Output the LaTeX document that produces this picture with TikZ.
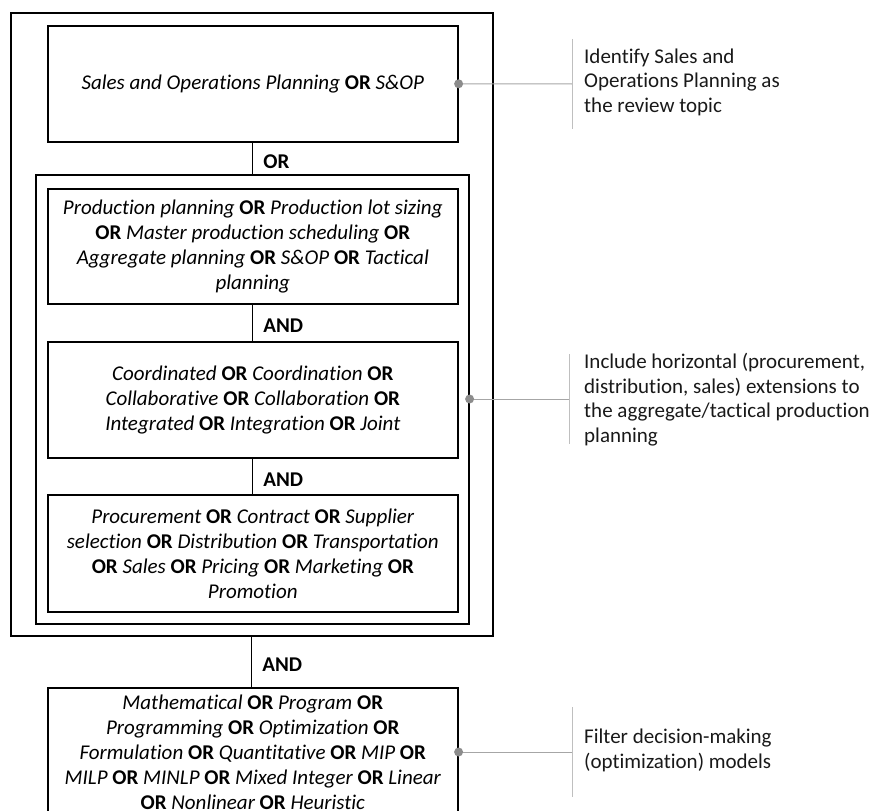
\documentclass[tikz,border=0pt]{standalone}
\usepackage{fontspec}
\setmainfont{Carlito}[Ligatures=NoCommon]
\newcommand{\OR}{{\bfseries\upshape OR}}
\newcommand{\termfont}{\fontsize{21bp}{25bp}\selectfont\itshape}
\newcommand{\notefont}{\fontsize{21bp}{24.5bp}\selectfont}
\definecolor{dotgray}{HTML}{8C8C8C}
\definecolor{leadgray}{HTML}{A6A6A6}
\definecolor{bargray}{HTML}{BFBFBF}
\begin{document}
\begin{tikzpicture}[x=1bp,y=-1bp,
  frame/.style={draw=black, line width=1.6bp},
  group/.style={frame, anchor=north west, inner sep=0pt},
  termbox/.style={frame, anchor=north west, inner sep=0pt, minimum width=410bp,
    align=center, font=\termfont},
  link/.style={draw=black, line width=1bp},
  oplabel/.style={anchor=west, xshift=10bp, yshift=-3bp, inner sep=0pt,
    font=\fontsize{21bp}{24bp}\selectfont\bfseries},
  note/.style={anchor=west, inner sep=0pt, align=left, font=\notefont, text=black!90},
  lead/.style={draw=leadgray, line width=1bp},
  bar/.style={draw=bargray, line width=1bp},
  pin/.style={fill=dotgray}
]
\useasboundingbox (0,0) rectangle (872,811);
\clip (0,0) rectangle (872,811);

% outer frame around the topic terms
\node[group, minimum width=482bp, minimum height=623bp] (outer) at (10,12) {};
\node[termbox, minimum height=116bp] (topic) at (47,25)
  {\textit{Sales and Operations Planning} \OR{} \textit{S\&OP}};

% inner frame around the three AND-joined blocks
\node[group, minimum width=433bp, minimum height=449bp] (inner) at (35,174) {};
\node[termbox, minimum height=115bp] (prod) at (47,188)
  {Production planning \OR{} Production lot sizing\\
   \OR{} Master production scheduling \OR{}\\
   Aggregate planning \OR{} S\&OP \OR{} Tactical\\
   planning};
\node[termbox, minimum height=116bp] (coord) at (47,341)
  {Coordinated \OR{} Coordination \OR{}\\
   Collaborative \OR{} Collaboration \OR{}\\
   Integrated \OR{} Integration \OR{} Joint};
\node[termbox, minimum height=117bp] (ext) at (47,494)
  {Procurement \OR{} Contract \OR{} Supplier\\
   selection \OR{} Distribution \OR{} Transportation\\
   \OR{} Sales \OR{} Pricing \OR{} Marketing \OR{}\\
   Promotion};

% model filter block
\node[termbox, minimum height=128bp] (model) at (47,687)
  {Mathematical \OR{} Program \OR{}\\
   Programming \OR{} Optimization \OR{}\\
   Formulation \OR{} Quantitative \OR{} MIP \OR{}\\
   MILP \OR{} MINLP \OR{} Mixed Integer \OR{} Linear\\
   \OR{} Nonlinear \OR{} Heuristic};

% boolean connectors
\draw[link] (topic.south) -- node[oplabel]{OR} (topic.south |- inner.north);
\draw[link] (prod.south) -- node[oplabel]{AND} (coord.north);
\draw[link] (coord.south) -- node[oplabel]{AND} (ext.north);
\draw[link] (outer.south) -- node[oplabel]{AND} (outer.south |- model.north);

% side notes
\coordinate (b1) at (572,84);
\coordinate (b2) at (569,399);
\coordinate (b3) at (572,752);
\draw[lead] (topic.east) -- (b1);
\draw[lead] (inner.east |- b2) -- (b2);
\draw[lead] (model.east |- b3) -- (b3);
\foreach \b in {b1,b2,b3}
  \draw[bar] ([yshift=45bp]\b) -- ([yshift=-45bp]\b);
\fill[pin] (topic.east) circle (4.5bp);
\fill[pin] (inner.east |- b2) circle (4.5bp);
\fill[pin] (model.east |- b3) circle (4.5bp);

\node[note] (n1) at (584,82)
  {Identify Sales and\\ Operations Planning as\\ the review topic};
\node[note] (n2) at (584,399.5)
  {Include horizontal (procurement,\\ distribution, sales) extensions to\\
   the aggregate/tactical production\\ planning};
\node[note] (n3) at (584,750.5)
  {Filter decision-making\\ (optimization) models};
\end{tikzpicture}
\end{document}
